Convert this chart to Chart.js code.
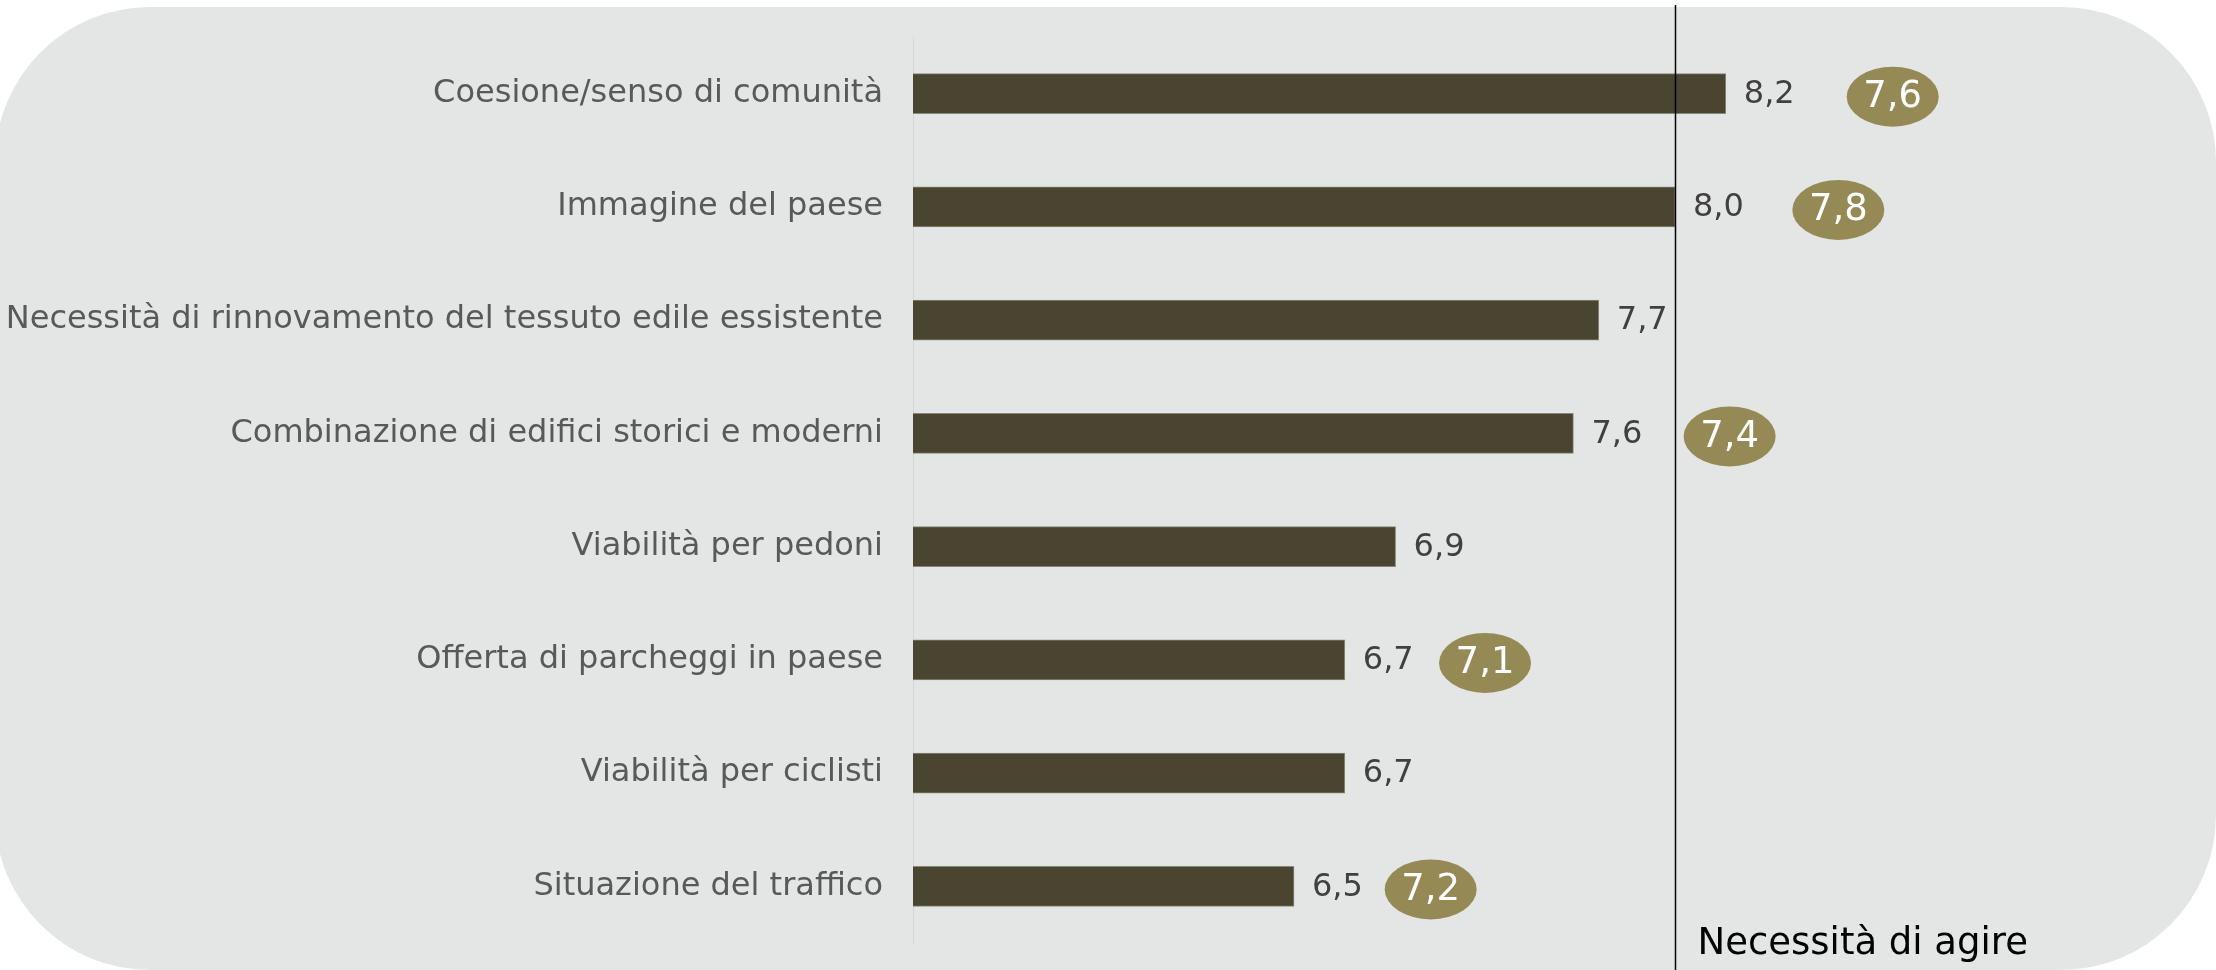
<!DOCTYPE html>
<html>
<head>
<meta charset="utf-8">
<script src="https://cdn.jsdelivr.net/npm/chart.js@4.4.1/dist/chart.umd.min.js"></script>
<style>
  html, body {
    margin: 0;
    padding: 0;
    background: #ffffff;
    overflow: hidden;
  }
  #panel {
    position: absolute;
    left: -5px;
    top: 7px;
    width: 2221px;
    height: 963px;
    border-radius: 155px;
    background: #e4e6e5;
  }
  #wrap {
    position: absolute;
    left: 0;
    top: 0;
    width: 2216px;
    height: 970px;
  }
</style>
</head>
<body>
<div id="panel"></div>
<div id="wrap"><canvas id="chart"></canvas></div>
<script>
// Chart data
const categories = [
  'Coesione/senso di comunità',
  'Immagine del paese',
  'Necessità di rinnovamento del tessuto edile essistente',
  'Combinazione di edifici storici e moderni',
  'Viabilità per pedoni',
  'Offerta di parcheggi in paese',
  'Viabilità per ciclisti',
  'Situazione del traffico'
];
const ratings = [8.2, 8.0, 7.7, 7.6, 6.9, 6.7, 6.7, 6.5];
// values shown in the round badges (null = no badge)
const badgeValues = [7.6, 7.8, null, 7.4, null, 7.1, null, 7.2];
const actionThreshold = 8.0;
const actionLabel = 'Necessità di agire';
const axisMin = 5;
const axisMax = 10;

const fmt = (v) => v.toFixed(1).replace('.', ',');

Chart.defaults.font.family = "'DejaVu Sans', Verdana, sans-serif";

// value labels, badges and the threshold line
const annotations = {
  id: 'annotations',
  afterDatasetsDraw(chart) {
    const ctx = chart.ctx;
    const area = chart.chartArea;
    const meta = chart.getDatasetMeta(0);
    const xScale = chart.scales.x;

    // threshold line
    const tx = Math.round(xScale.getPixelForValue(actionThreshold)) + 0.5;
    ctx.save();
    ctx.strokeStyle = '#000000';
    ctx.lineWidth = 1.5;
    ctx.beginPath();
    ctx.moveTo(tx, 5);
    ctx.lineTo(tx, chart.height);
    ctx.stroke();
    ctx.fillStyle = '#000000';
    ctx.font = "37px 'DejaVu Sans', Verdana, sans-serif";
    ctx.textAlign = 'left';
    ctx.textBaseline = 'alphabetic';
    ctx.fillText(actionLabel, tx + 22, 954);
    ctx.restore();

    meta.data.forEach((bar, i) => {
      // value label
      ctx.save();
      ctx.fillStyle = '#404040';
      ctx.font = "32px 'DejaVu Sans', Verdana, sans-serif";
      ctx.textAlign = 'left';
      ctx.textBaseline = 'middle';
      ctx.fillText(fmt(ratings[i]), bar.x + 18, bar.y + 1);
      ctx.restore();

      // badge, placed to the right of the value label
      const b = badgeValues[i];
      if (b === null) return;
      const cx = bar.x + 110 + 0.07 * (bar.x - area.left);
      ctx.save();
      ctx.fillStyle = '#958a55';
      ctx.beginPath();
      ctx.ellipse(cx, bar.y + 3, 46, 30, 0, 0, Math.PI * 2);
      ctx.fill();
      ctx.fillStyle = '#ffffff';
      ctx.font = "37px 'DejaVu Sans', Verdana, sans-serif";
      ctx.textAlign = 'center';
      ctx.textBaseline = 'middle';
      ctx.fillText(fmt(b), cx, bar.y + 4);
      ctx.restore();
    });
  }
};

const ctx = document.getElementById('chart').getContext('2d');
new Chart(ctx, {
  type: 'bar',
  data: {
    labels: categories,
    datasets: [{
      data: ratings,
      backgroundColor: '#4a4530',
      borderColor: '#8a8776',
      borderWidth: { top: 1, bottom: 1, right: 1, left: 0 },
      borderSkipped: 'left',
      barThickness: 40
    }]
  },
  options: {
    indexAxis: 'y',
    responsive: true,
    maintainAspectRatio: false,
    animation: false,
    layout: {
      padding: { left: 0, right: 33, top: 37, bottom: 27 }
    },
    plugins: {
      legend: { display: false },
      tooltip: { enabled: false }
    },
    scales: {
      x: {
        display: false,
        min: axisMin,
        max: axisMax
      },
      y: {
        afterFit: (scale) => {
          scale.width = 913;
          scale.paddingTop = 0;
          scale.paddingBottom = 0;
        },
        grid: { display: false, drawTicks: false },
        border: { display: true, color: '#d6d6d6', width: 1 },
        ticks: {
          color: '#595959',
          padding: 30,
          font: { size: 32 }
        }
      }
    }
  },
  plugins: [annotations]
});
</script>
</body>
</html>
